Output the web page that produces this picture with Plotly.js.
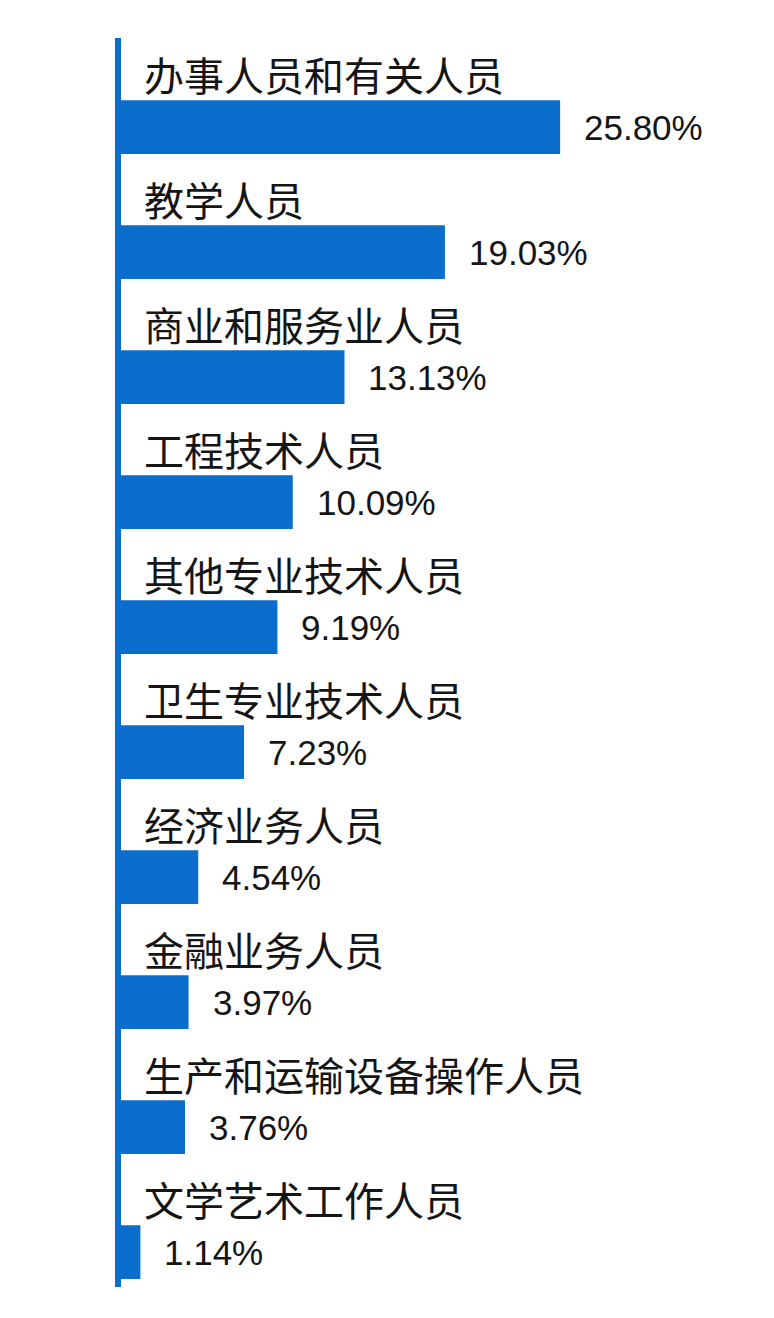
<!DOCTYPE html>
<html>
<head>
<meta charset="utf-8">
<script src="https://cdn.plot.ly/plotly-3.0.1.min.js"></script>
<style>
  html, body { margin: 0; padding: 0; background: #fff; }
  #chart { width: 774px; height: 1318px; }
</style>
</head>
<body>
<div id="chart"></div>
<script>
// 职业分布数据
const categories = [
    '办事人员和有关人员', '教学人员', '商业和服务业人员', '工程技术人员', '其他专业技术人员',
    '卫生专业技术人员', '经济业务人员', '金融业务人员', '生产和运输设备操作人员', '文学艺术工作人员'
];
const values = [25.80, 19.03, 13.13, 10.09, 9.19, 7.23, 4.54, 3.97, 3.76, 1.14];
const valueLabels = ['25.80%', '19.03%', '13.13%', '10.09%', '9.19%', '7.23%', '4.54%', '3.97%', '3.76%', '1.14%'];

const barColor = '#0b6dcc';
const textColor = '#151515';
const fontFamily = '"Liberation Sans", "Noto Sans CJK SC", sans-serif';

const trace = {
    type: 'bar',
    orientation: 'h',
    x: values,
    y: categories,
    width: 0.43,
    marker: { color: barColor },
    hoverinfo: 'none'
};

// 类别标签（条形上方）
const nameNotes = categories.map(c => ({
    x: 0, y: c, xref: 'x', yref: 'y',
    text: c, showarrow: false,
    xanchor: 'left', yanchor: 'middle',
    xshift: 21, yshift: 50,
    font: { family: fontFamily, size: 40, color: textColor }
}));

// 数值标签（条形右侧）
const valueNotes = categories.map((c, i) => ({
    x: values[i], y: c, xref: 'x', yref: 'y',
    text: valueLabels[i], showarrow: false,
    xanchor: 'left', yanchor: 'middle',
    xshift: 22, yshift: 0,
    font: { family: fontFamily, size: 35, color: textColor }
}));

const layout = {
    width: 774,
    height: 1318,
    margin: { l: 121, r: 20, t: 38, b: 31 },
    paper_bgcolor: '#ffffff',
    plot_bgcolor: '#ffffff',
    showlegend: false,
    xaxis: {
        range: [0, 37.19],
        visible: false,
        fixedrange: true
    },
    yaxis: {
        type: 'category',
        categoryorder: 'array',
        categoryarray: categories,
        range: [9.28, -0.712],
        autorange: false,
        showline: true,
        linecolor: barColor,
        linewidth: 6,
        showgrid: false,
        zeroline: false,
        showticklabels: false,
        ticks: '',
        fixedrange: true
    },
    annotations: nameNotes.concat(valueNotes)
};

Plotly.newPlot('chart', [trace], layout, { displayModeBar: false, staticPlot: true });
</script>
</body>
</html>
